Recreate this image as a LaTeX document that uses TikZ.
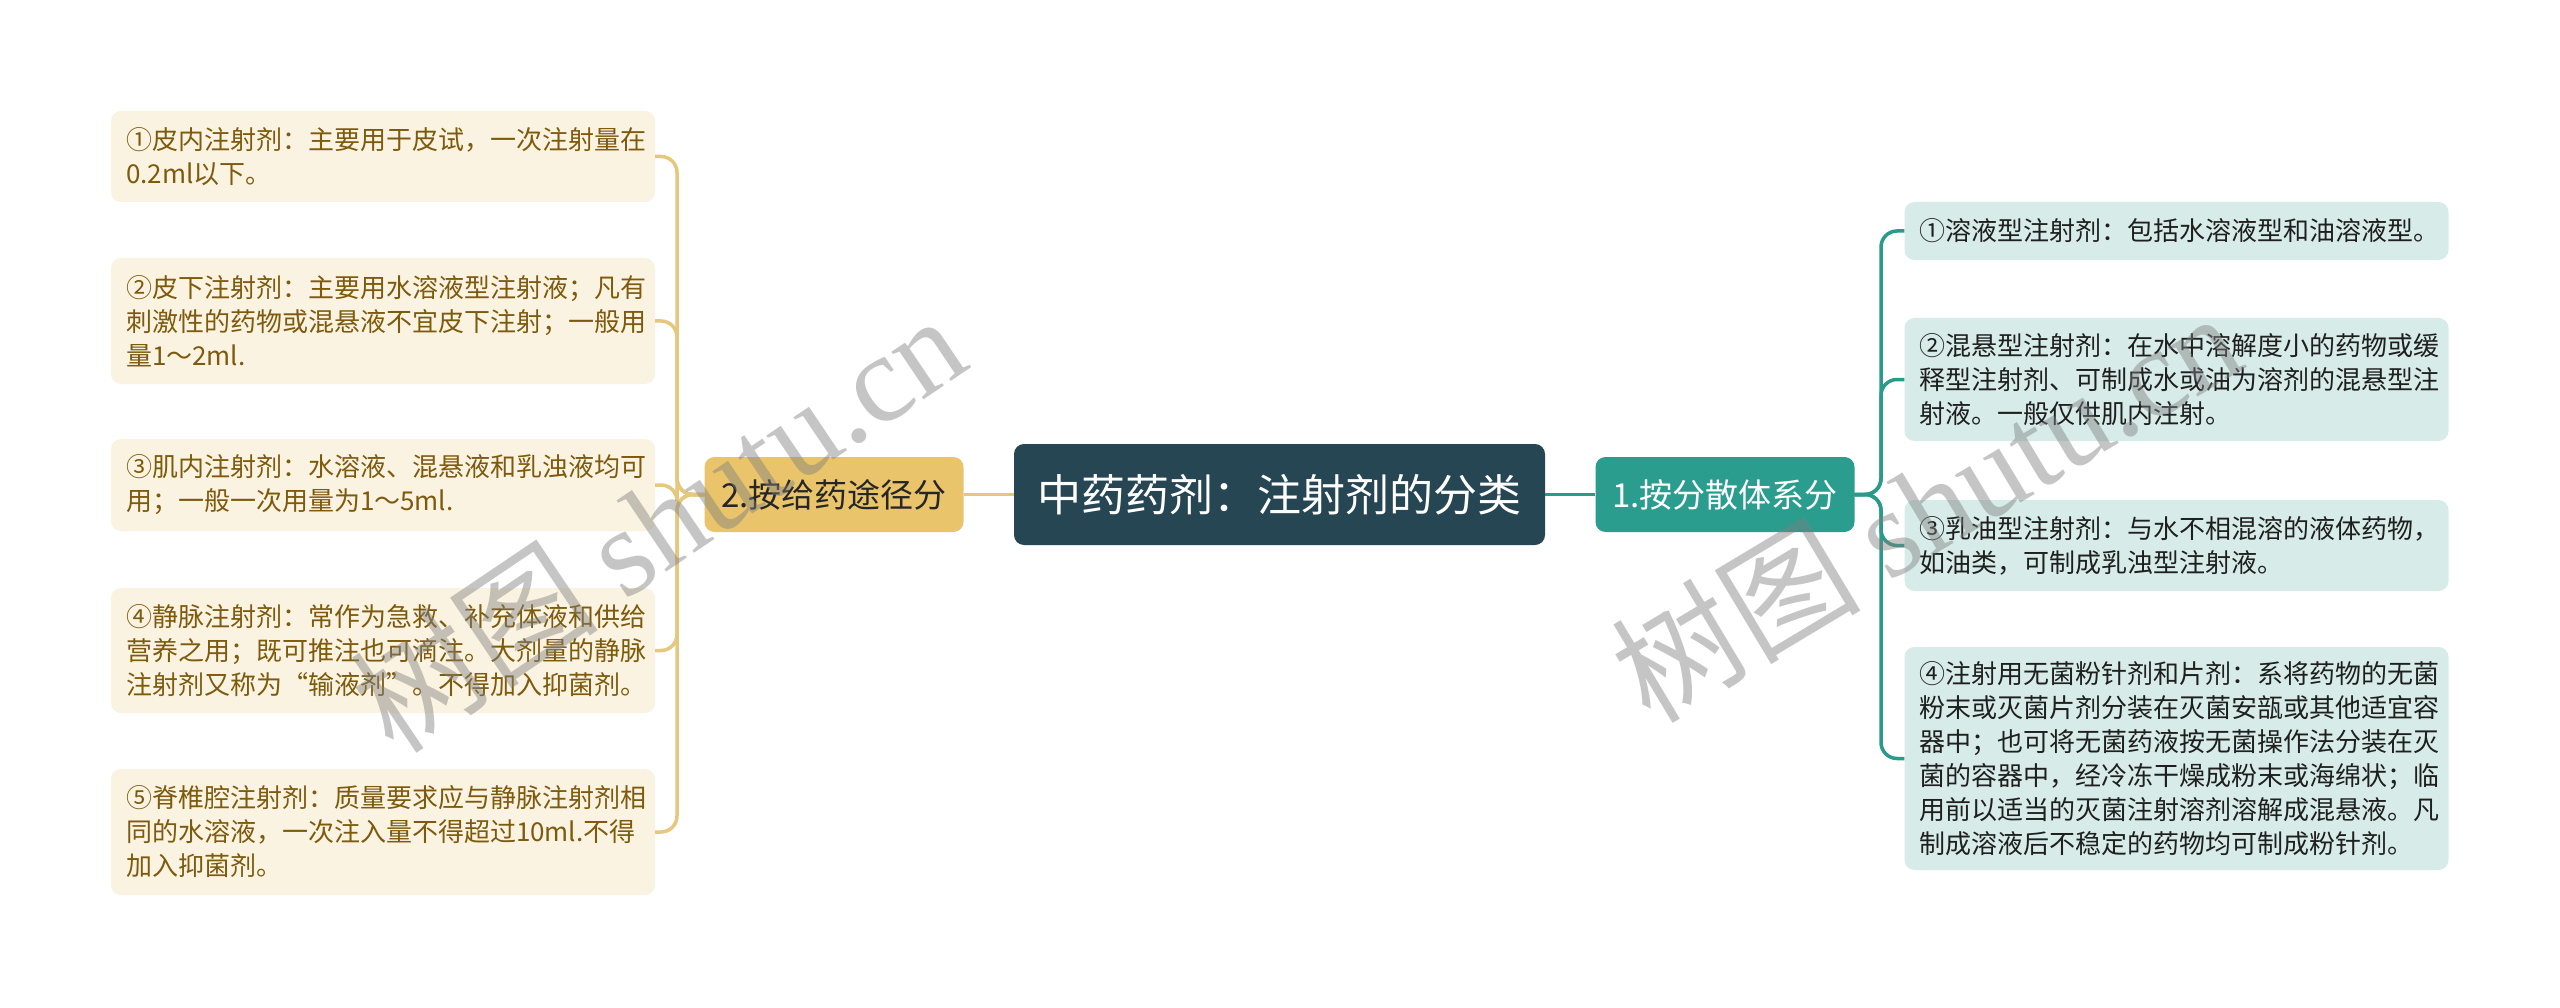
\documentclass[tikz,border=0pt]{standalone}
\usepackage{fontspec}
\setmainfont{Noto Sans CJK SC}
\newfontfamily\wmserif{Liberation Serif}
\newfontfamily\wmcjk{Noto Sans CJK SC}
\definecolor{cdark}{HTML}{264653}
\definecolor{cteal}{HTML}{2A9D8F}
\definecolor{cgold}{HTML}{E9C46A}
\definecolor{lfill}{HTML}{FBF3E2}
\definecolor{ltext}{HTML}{7D5A0C}
\definecolor{rfill}{HTML}{D7ECE9}
\definecolor{rtext}{HTML}{1F1F1F}
\definecolor{gline}{HTML}{E5C77E}
\definecolor{tline}{HTML}{2A9A8A}
\begin{document}
\begin{tikzpicture}[x=1pt,y=-1pt,
  leafL/.style={fill=lfill, text=ltext, rounded corners=10pt, text width=514pt,
    inner xsep=15pt, inner ysep=0pt, align=left, font=\fontsize{26}{34}\selectfont},
  leafR/.style={leafL, fill=rfill, text=rtext},
  rootbox/.style={fill=cdark, text=white, rounded corners=10pt, minimum width=531pt,
    minimum height=101pt, inner sep=0pt, font=\fontsize{44}{50}\selectfont},
  branchbox/.style={rounded corners=10pt, minimum width=259pt, minimum height=75pt,
    inner sep=0pt, font=\fontsize{33}{38}\selectfont},
  goldline/.style={draw=gline, line width=3.5pt, rounded corners=16pt},
  tealline/.style={draw=tline, line width=3.5pt, rounded corners=16pt},
  wm/.style={text=gray, opacity=0.45, inner sep=0pt}
]
\useasboundingbox (0,0) rectangle (2560,1008);
\fill[white] (0,0) rectangle (2560,1008);

% root and branches
\node[rootbox] (root) at (1279.5,494.5) {中药药剂：注射剂的分类};
\node[branchbox, fill=cteal, text=white] (B1) at (1725,494.5) {1.按分散体系分};
\node[branchbox, fill=cgold, text=black!85] (B2) at (834,494.5) {2.按给药途径分};

% left leaves
\node[leafL, minimum height=91pt] (L1) at (383,156.5) {①皮内注射剂：主要用于皮试，一次注射量在\\0.2ml以下。};
\node[leafL, minimum height=126pt] (L2) at (383,321) {②皮下注射剂：主要用水溶液型注射液；凡有\\刺激性的药物或混悬液不宜皮下注射；一般用\\量1～2ml.};
\node[leafL, minimum height=92pt] (L3) at (383,485) {③肌内注射剂：水溶液、混悬液和乳浊液均可\\用；一般一次用量为1～5ml.};
\node[leafL, minimum height=125pt] (L4) at (383,650.5) {④静脉注射剂：常作为急救、补充体液和供给\\营养之用；既可推注也可滴注。大剂量的静脉\\注射剂又称为“输液剂”。不得加入抑菌剂。};
\node[leafL, minimum height=126pt] (L5) at (383,832) {⑤脊椎腔注射剂：质量要求应与静脉注射剂相\\同的水溶液，一次注入量不得超过10ml.不得\\加入抑菌剂。};

% right leaves
\node[leafR, minimum height=58pt] (R1) at (2176.5,231) {①溶液型注射剂：包括水溶液型和油溶液型。};
\node[leafR, minimum height=123pt] (R2) at (2176.5,379.5) {②混悬型注射剂：在水中溶解度小的药物或缓\\释型注射剂、可制成水或油为溶剂的混悬型注\\射液。一般仅供肌内注射。};
\node[leafR, minimum height=91pt] (R3) at (2176.5,545.5) {③乳油型注射剂：与水不相混溶的液体药物，\\如油类，可制成乳浊型注射液。};
\node[leafR, minimum height=223pt] (R4) at (2176.5,758.5) {④注射用无菌粉针剂和片剂：系将药物的无菌\\粉末或灭菌片剂分装在灭菌安瓿或其他适宜容\\器中；也可将无菌药液按无菌操作法分装在灭\\菌的容器中，经冷冻干燥成粉末或海绵状；临\\用前以适当的灭菌注射溶剂溶解成混悬液。凡\\制成溶液后不稳定的药物均可制成粉针剂。};

% connectors
\draw[goldline] (root.west) -- (B2.east);
\draw[tealline] (root.east) -- (B1.west);
\coordinate (lj) at (677,494.5);
\coordinate (rj) at (1881,494.5);
\foreach \n in {L1,L2,L3,L4,L5}{
  \draw[goldline] (B2.west) -- (lj) |- (\n.east);
}
\foreach \n in {R1,R2,R3,R4}{
  \draw[tealline] (B1.east) -- (rj) |- (\n.west);
}

% watermarks
\node[wm, rotate=34] (wm1) at (657,522) {\fontsize{125}{130}\selectfont\wmcjk 树图 \wmserif shutu.cn};
\node[wm, rotate=31] (wm2) at (1925,505) {\fontsize{125}{130}\selectfont\wmcjk 树图 \wmserif shutu.cn};
\end{tikzpicture}
\end{document}
